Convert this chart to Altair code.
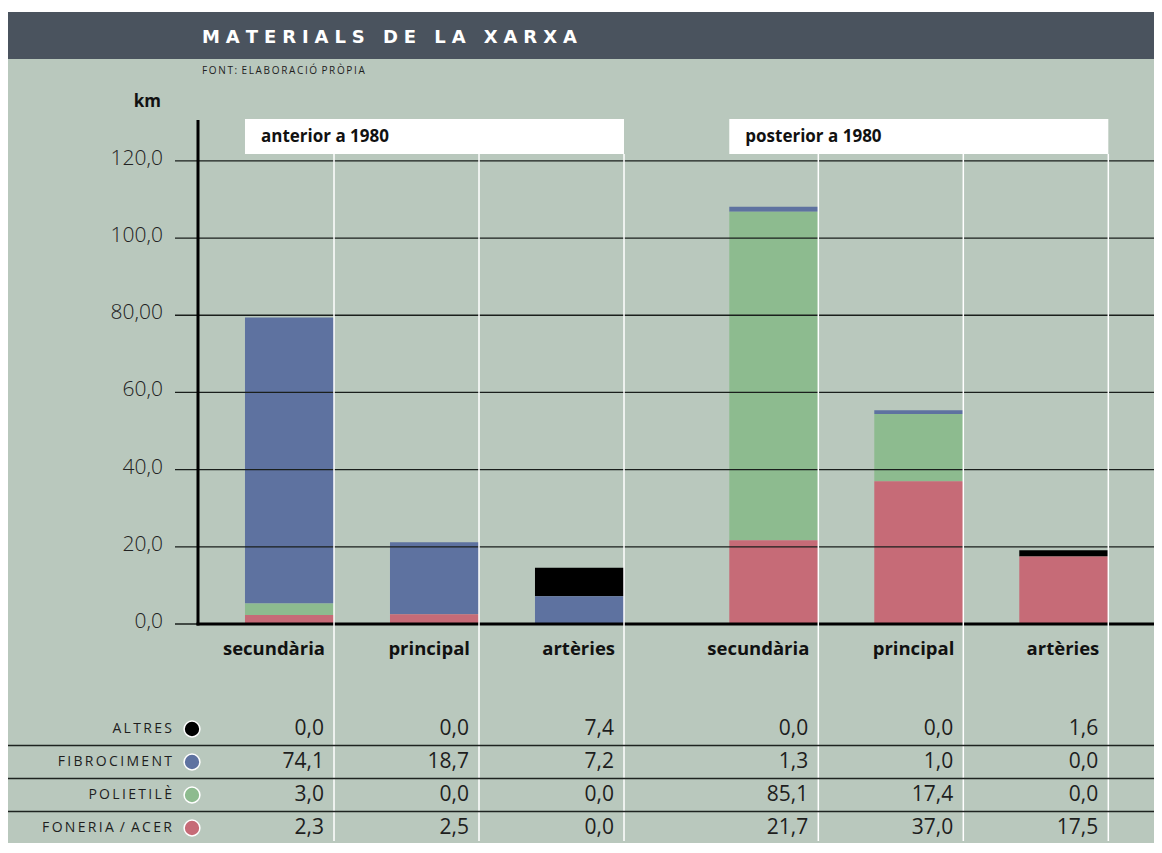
import altair as alt
import pandas as pd

# ---------------- data ----------------
title = "MATERIALS DE LA XARXA"
subtitle = "FONT: ELABORACIÓ PRÒPIA"
unit_label = "km"
groups = ["anterior a 1980", "posterior a 1980"]
categories = ["secundària", "principal", "artèries"]
materials = ["ALTRES", "FIBROCIMENT", "POLIETILÈ", "FONERIA / ACER"]
mat_colors = ["#000000", "#5e72a0", "#8dbb8f", "#c66b77"]
altres = [0.0, 0.0, 7.4, 0.0, 0.0, 1.6]
fibrociment = [74.1, 18.7, 7.2, 1.3, 1.0, 0.0]
polietile = [3.0, 0.0, 0.0, 85.1, 17.4, 0.0]
foneria = [2.3, 2.5, 0.0, 21.7, 37.0, 17.5]
y_ticks = [0, 20, 40, 60, 80, 100, 120]
y_tick_labels = ["0,0", "20,0", "40,0", "60,0", "80,00", "100,0", "120,0"]

values = {"ALTRES": altres, "FIBROCIMENT": fibrociment,
          "POLIETILÈ": polietile, "FONERIA / ACER": foneria}

# ---------------- layout / style ----------------
W, H = 955, 504
PAD = {"left": 191, "top": 112, "right": 0, "bottom": 219}
BOTTOM = H + PAD["bottom"]
STEP_PX = 145.0
FIRST_PX = 90.5
GROUP_OFFSET = [0.0, 3.34]
HALF = 0.307
BG = "#b9c8bd"
HEADER = "#4a535e"
FONT = "Open Sans"
INK = "#1e1e1e"

x_scale = alt.Scale(domain=[-FIRST_PX / STEP_PX, (W - FIRST_PX) / STEP_PX], nice=False, zero=False)
y_scale = alt.Scale(domain=[0, 130.6], nice=False, zero=True)
row_scale = alt.Scale(domain=materials, range=[609, 708], padding=0)
color_scale = alt.Scale(domain=materials, range=mat_colors)


def fmt(v):
    return f"{v:.1f}".replace(".", ",")


def spaced(s, gap, word_gap):
    return word_gap.join(gap.join(w) for w in s.split(" "))


cols = []
for g, grp in enumerate(groups):
    for i, cat in enumerate(categories):
        slot = GROUP_OFFSET[g] + i
        cols.append(dict(group=grp, category=cat, j=g * 3 + i, left=slot - HALF, right=slot + HALF))
cols_df = pd.DataFrame(cols)

rows = []
for c in cols:
    for k, m in enumerate(materials):
        v = values[m][c["j"]]
        rows.append(dict(c, material=m, value=v, stack=len(materials) - 1 - k, label=fmt(v)))
bars_df = pd.DataFrame(rows)

grp_df = pd.DataFrame([
    dict(group=grp, left=GROUP_OFFSET[g] - HALF, right=GROUP_OFFSET[g] + 2 + HALF)
    for g, grp in enumerate(groups)
])
ticks_df = pd.DataFrame({"v": y_ticks, "lab": y_tick_labels})
legend_df = pd.DataFrame({"material": materials,
                          "disp": [spaced(m, "\u2009", " \u2009") for m in materials]})
one = pd.DataFrame({"t": [spaced(title, "\u2004", "\u2004 \u2004"),
                          spaced(subtitle, "\u2009", " \u2009"), unit_label]})

base1 = alt.Chart(one.iloc[[0]])

background = base1.mark_rect(color=BG).encode(
    x=alt.value(-PAD["left"]), x2=alt.value(W + PAD["right"]),
    y=alt.value(-108), y2=alt.value(BOTTOM))
header = base1.mark_rect(color=HEADER).encode(
    x=alt.value(-PAD["left"]), x2=alt.value(W + PAD["right"]),
    y=alt.value(-108), y2=alt.value(-61))
title_txt = alt.Chart(one.iloc[[0]]).mark_text(
    align="left", baseline="middle", font="DejaVu Sans", fontWeight="bold",
    fontSize=18, color="white").encode(x=alt.value(3), y=alt.value(-82), text="t:N")
sub_txt = alt.Chart(one.iloc[[1]]).mark_text(
    align="left", baseline="middle", font=FONT, fontSize=10, color=INK).encode(
    x=alt.value(3), y=alt.value(-49), text="t:N")
km_txt = alt.Chart(one.iloc[[2]]).mark_text(
    align="right", baseline="middle", font=FONT, fontWeight="bold",
    fontSize=17, color="#111").encode(x=alt.value(-38), y=alt.value(-18), text="t:N")

bars = alt.Chart(bars_df).transform_stack(
    stack="value", groupby=["j"], as_=["y0", "y1"],
    sort=[alt.SortField("stack", order="ascending")],
).mark_rect().encode(
    x=alt.X("left:Q", scale=x_scale, axis=None),
    x2="right:Q",
    y=alt.Y("y0:Q", scale=y_scale, axis=None),
    y2="y1:Q",
    color=alt.Color("material:N", scale=color_scale, legend=None),
)

grid = alt.Chart(ticks_df).mark_rule(color="#1a1f1c", strokeWidth=1.3).encode(
    y=alt.Y("v:Q", scale=y_scale, axis=None),
    x=alt.value(-24), x2=alt.value(W),
)
ytick_txt = alt.Chart(ticks_df).mark_text(
    align="right", baseline="middle", dy=-2, font=FONT, fontSize=21, fontWeight=300,
    color="#222").encode(
    y=alt.Y("v:Q", scale=y_scale, axis=None), x=alt.value(-36), text="lab:N")

y_axis_line = base1.mark_rule(color="black", strokeWidth=3).encode(
    x=alt.value(-1), y=alt.value(0), y2=alt.value(H + 1.5))
base_line = base1.mark_rule(color="black", strokeWidth=3).encode(
    x=alt.value(-2.5), x2=alt.value(W), y=alt.value(H))

white_lines = alt.Chart(cols_df).mark_rule(color="white", strokeWidth=1.5).encode(
    x=alt.X("right:Q", scale=x_scale, axis=None),
    y=alt.value(34), y2=alt.value(BOTTOM - 2),
)

boxes = alt.Chart(grp_df).mark_rect(color="white").encode(
    x=alt.X("left:Q", scale=x_scale, axis=None), x2="right:Q",
    y=alt.value(-1), y2=alt.value(34))
box_txt = alt.Chart(grp_df).mark_text(
    align="left", baseline="middle", dx=16, font=FONT, fontWeight="bold",
    fontSize=17, color="#111").encode(
    x=alt.X("left:Q", scale=x_scale, axis=None), y=alt.value(17), text="group:N")

cat_txt = alt.Chart(cols_df).mark_text(
    align="right", baseline="middle", dx=-9, font=FONT, fontWeight="bold",
    fontSize=18.5, color="#111").encode(
    x=alt.X("right:Q", scale=x_scale, axis=None), y=alt.value(529), text="category:N")

table_lines = alt.Chart(pd.DataFrame({"y": [625.5, 658.5, 691.5]})).mark_rule(
    color="#1e2320", strokeWidth=1.5).encode(
    x=alt.value(-PAD["left"]), x2=alt.value(W + PAD["right"]),
    y=alt.Y("y:Q", scale=None, axis=None))

table_txt = alt.Chart(bars_df).mark_text(
    align="right", baseline="middle", dx=-10, font=FONT, fontSize=21, color=INK).encode(
    x=alt.X("right:Q", scale=x_scale, axis=None),
    y=alt.Y("material:N", scale=row_scale, axis=None),
    text="label:N")

legend_dots = alt.Chart(legend_df).mark_point(
    filled=True, size=250, stroke="white", strokeWidth=1.5, opacity=1, shape="circle",
    strokeOpacity=1).encode(
    x=alt.value(-7),
    y=alt.Y("material:N", scale=row_scale, axis=None),
    color=alt.Color("material:N", scale=color_scale, legend=None),
)
legend_txt = alt.Chart(legend_df).mark_text(
    align="right", baseline="middle", font=FONT, fontSize=14, color=INK).encode(
    x=alt.value(-27),
    y=alt.Y("material:N", scale=row_scale, axis=None),
    text="disp:N")

chart = alt.layer(
    background, header, title_txt, sub_txt, km_txt,
    bars, grid, ytick_txt, y_axis_line, base_line, white_lines,
    boxes, box_txt, cat_txt, table_lines, table_txt, legend_dots, legend_txt,
).resolve_scale(y="independent").properties(
    width=W, height=H, padding=PAD, autosize=alt.AutoSizeParams(type="none"),
    background="white",
).configure_view(stroke=None)

chart.save("out.html", embed_options={"renderer": "svg", "actions": False})
